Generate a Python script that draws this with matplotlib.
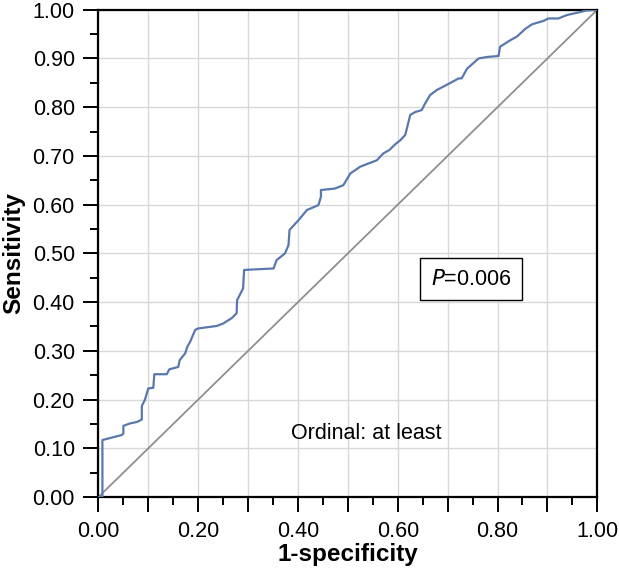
# ROC curve, ordinal "at least"

import numpy as np
import matplotlib.pyplot as plt

plt.rcParams['font.family'] = ['Liberation Sans', 'DejaVu Sans']

# points (1-specificity, sensitivity)
fpr = [0.0, 0.008, 0.008, 0.046, 0.050, 0.050, 0.063, 0.077, 0.087, 0.087, 0.093,
       0.100, 0.110, 0.112, 0.137, 0.142, 0.160, 0.163, 0.174, 0.178, 0.184,
       0.194, 0.200, 0.237, 0.250, 0.267, 0.277, 0.278, 0.285, 0.290, 0.292,
       0.351, 0.357, 0.374, 0.381, 0.383, 0.401, 0.418, 0.441, 0.446, 0.446,
       0.474, 0.491, 0.505, 0.525, 0.558, 0.571, 0.583, 0.595, 0.605, 0.615,
       0.625, 0.635, 0.648, 0.655, 0.665, 0.678, 0.704, 0.722, 0.728, 0.739,
       0.762, 0.779, 0.802, 0.805, 0.825, 0.839, 0.856, 0.869, 0.892, 0.902,
       0.922, 0.939, 0.969, 0.976, 1.0]
tpr = [0.0, 0.0, 0.117, 0.127, 0.130, 0.146, 0.151, 0.154, 0.159, 0.187, 0.199,
       0.223, 0.224, 0.252, 0.252, 0.262, 0.267, 0.281, 0.295, 0.308, 0.319,
       0.343, 0.346, 0.351, 0.356, 0.367, 0.377, 0.404, 0.418, 0.428, 0.466,
       0.469, 0.486, 0.500, 0.517, 0.548, 0.568, 0.589, 0.599, 0.616, 0.630,
       0.633, 0.640, 0.664, 0.678, 0.691, 0.705, 0.712, 0.724, 0.732, 0.743,
       0.784, 0.790, 0.794, 0.808, 0.825, 0.835, 0.849, 0.859, 0.859, 0.879,
       0.900, 0.903, 0.905, 0.924, 0.937, 0.945, 0.961, 0.970, 0.977, 0.982,
       0.982, 0.989, 0.996, 0.998, 1.0]

fig = plt.figure(figsize=(6.19, 5.70), dpi=100)
ax = fig.add_axes([0.159, 0.128, 0.806, 0.855])

ax.plot([0, 1], [0, 1], color='#8f8f8f', lw=1.3, zorder=2)
ax.plot(fpr, tpr, color='#5a78ad', lw=1.6, zorder=3)

ax.set_xlim(0, 1)
ax.set_ylim(0, 1)

ax.set_xticks(np.arange(0, 1.01, 0.1))
ax.set_xticklabels(['%.2f' % v if i % 2 == 0 else '' for i, v in enumerate(np.arange(0, 1.01, 0.1))])
ax.set_xticks(np.arange(0.05, 1.0, 0.1), minor=True)
ax.set_yticks(np.arange(0, 1.01, 0.1))
ax.set_yticklabels(['%.2f' % v for v in np.arange(0, 1.01, 0.1)])
ax.set_yticks(np.arange(0.05, 1.0, 0.1), minor=True)

ax.tick_params(which='major', length=11, width=1.4, labelsize=15.5, direction='out', pad=6)
ax.tick_params(which='minor', length=6, width=1.4, direction='out')
ax.grid(True, which='major', color='#d8d8d8', lw=1.0)
ax.set_axisbelow(True)
for s in ax.spines.values():
    s.set_linewidth(1.6)

ax.set_xlabel('1-specificity', fontsize=17.5, fontweight='bold', labelpad=1)
ax.set_ylabel('Sensitivity', fontsize=17.5, fontweight='bold', labelpad=5)

ax.text(0.747, 0.447, '$\\it{P}$=0.006', fontsize=15.5, ha='center', va='center',
        bbox=dict(boxstyle='square,pad=0.5', fc='white', ec='black', lw=1.0), zorder=5)
ax.text(0.537, 0.13, 'Ordinal: at least', fontsize=15.5, ha='center', va='center')

fig.savefig('out.png', dpi=100)
